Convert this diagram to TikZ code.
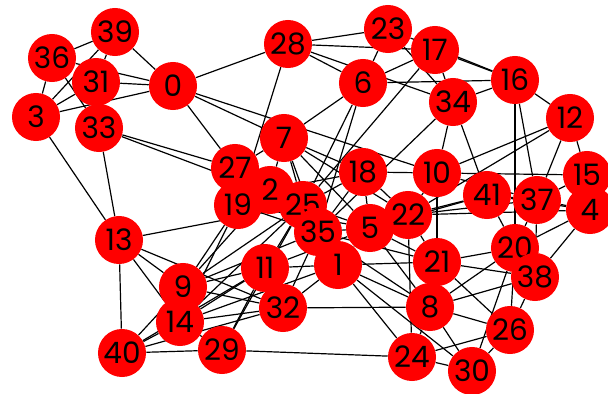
\documentclass[tikz,border=0pt]{standalone}
\usepackage{fontspec}
\setmainfont{Poppins}
\usepackage{tikz}
\usetikzlibrary{backgrounds}

\begin{document}
\begin{tikzpicture}[x=0.025cm, y=-0.025cm,
          vertex/.style={circle, fill=red, inner sep=0pt, minimum size=1.2cm,
                         font=\fontsize{21}{23}\selectfont},
          link/.style={black, line width=0.85pt}
        ]
          \useasboundingbox (0,0) rectangle (608,394);

          % Knoten oben links
          \node[vertex] (n39) at (115,32) {39};
          \node[vertex] (n36) at (52,58) {36};
          \node[vertex] (n31) at (96,82) {31};
          \node[vertex] (n0)  at (173,86) {0};
          \node[vertex] (n3)  at (36,117) {3};
          \node[vertex] (n33) at (99,128) {33};

          % Knoten oben
          \node[vertex] (n28) at (288,44) {28};
          \node[vertex] (n23) at (388,29) {23};
          \node[vertex] (n17) at (435,50) {17};
          \node[vertex] (n6)  at (363,83) {6};
          \node[vertex] (n34) at (453,102) {34};
          \node[vertex] (n16) at (515,80) {16};
          \node[vertex] (n12) at (570,118) {12};
          \node[vertex] (n7)  at (284,138) {7};

          % Knoten Mitte
          \node[vertex] (n27) at (235,168) {27};
          \node[vertex] (n18) at (363,172) {18};
          \node[vertex] (n10) at (437,173) {10};
          \node[vertex] (n15) at (587,175) {15};
          \node[vertex] (n2)  at (270,190) {2};
          \node[vertex] (n41) at (487,195) {41};
          \node[vertex] (n37) at (537,200) {37};
          \node[vertex] (n4)  at (590,210) {4};
          \node[vertex] (n19) at (238,205) {19};
          \node[vertex] (n25) at (303,205) {25};
          \node[vertex] (n22) at (408,215) {22};
          \node[vertex] (n5)  at (370,228) {5};
          \node[vertex] (n35) at (318,232) {35};
          \node[vertex] (n13) at (119,240) {13};
          \node[vertex] (n20) at (515,248) {20};
          \node[vertex] (n21) at (437,262) {21};
          \node[vertex] (n1)  at (338,265) {1};
          \node[vertex] (n11) at (265,268) {11};
          \node[vertex] (n38) at (535,277) {38};

          % Knoten unten
          \node[vertex] (n9)  at (183,287) {9};
          \node[vertex] (n8)  at (430,307) {8};
          \node[vertex] (n32) at (283,308) {32};
          \node[vertex] (n14) at (180,322) {14};
          \node[vertex] (n26) at (510,330) {26};
          \node[vertex] (n29) at (222,350) {29};
          \node[vertex] (n40) at (122,353) {40};
          \node[vertex] (n24) at (412,357) {24};
          \node[vertex] (n30) at (472,371) {30};

          % Kanten
          \begin{scope}[on background layer]
            \foreach \a/\b in {36/39, 36/3, 36/33, 36/0, 39/31, 39/0, 39/3, 31/0, 31/3, 3/0,
                               3/13, 33/13, 33/27, 33/25, 0/28, 0/27, 0/7, 0/10,
                               28/23, 28/17, 28/6, 28/34, 28/19, 23/6, 23/34, 23/16,
                               6/17, 6/7, 6/25, 6/35, 6/16, 17/25, 34/35, 17/34, 17/16,
                               34/16, 34/10, 34/41, 16/12, 16/20, 16/37,
                               12/10, 12/37, 12/15, 12/22}
              \draw[link] (n\a) -- (n\b);
            \foreach \a/\b in {10/21, 10/15, 10/18, 10/22, 10/37, 41/37, 41/20, 41/22, 41/5, 41/4,
                               37/15, 37/4, 37/20, 37/38, 37/22, 15/4, 4/38, 4/20, 4/22,
                               20/21, 20/38, 20/8, 20/26, 20/30, 38/26, 38/8, 38/21,
                               21/22, 21/8, 21/1, 21/5, 21/26, 8/32, 8/1, 8/24, 8/30, 8/26, 8/5, 8/35,
                               24/29, 24/30, 24/22, 24/26, 24/1, 30/26, 30/1}
              \draw[link] (n\a) -- (n\b);
            \foreach \a/\b in {7/25, 7/2, 7/35, 7/18, 7/5, 7/22, 7/27, 27/2, 27/19,
                               2/19, 2/25, 2/9, 2/18, 19/25, 19/9, 19/14, 19/35, 19/5,
                               25/35, 25/18, 25/5, 25/11, 25/29, 25/9, 25/14,
                               35/1, 35/5, 35/9, 35/32, 35/21, 18/5, 18/22, 18/35,
                               5/22, 5/1, 5/11, 1/11, 1/32, 1/14, 11/9, 11/29, 11/32, 11/14, 11/40,
                               9/13, 9/14, 9/32, 9/40, 14/13, 14/40, 14/29, 14/32,
                               40/13, 40/29, 40/32, 13/25, 13/32}
              \draw[link] (n\a) -- (n\b);
          \end{scope}
        \end{tikzpicture}
\end{document}
